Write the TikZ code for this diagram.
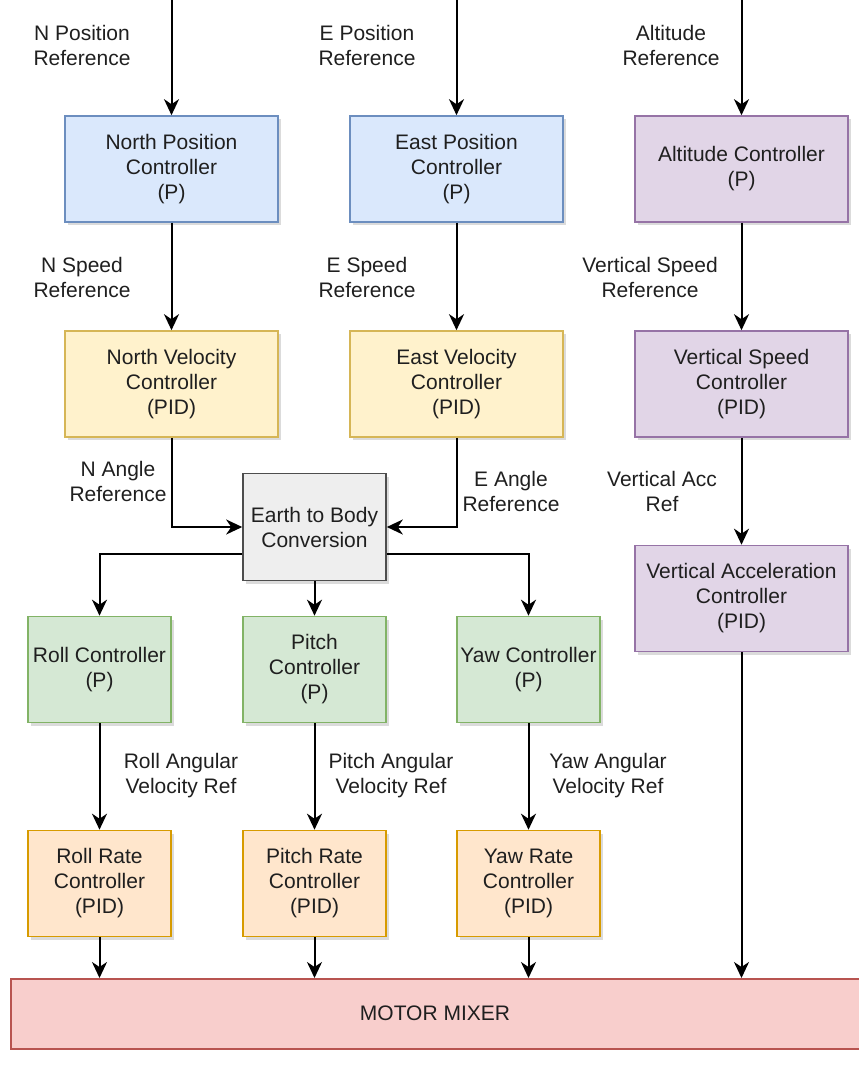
\documentclass[tikz,border=0pt]{standalone}
\usepackage{fontspec}
\setmainfont{Liberation Sans}
\usetikzlibrary{arrows.meta,shadows,calc}

\definecolor{txt}{HTML}{1F1F1F}
\definecolor{blueF}{HTML}{DAE8FC}\definecolor{blueD}{HTML}{6C8EBF}
\definecolor{yelF}{HTML}{FFF2CC}\definecolor{yelD}{HTML}{D6B656}
\definecolor{purF}{HTML}{E1D5E7}\definecolor{purD}{HTML}{9673A6}
\definecolor{grayF}{HTML}{EEEEEE}\definecolor{grayD}{HTML}{4D4D4D}
\definecolor{grnF}{HTML}{D5E8D4}\definecolor{grnD}{HTML}{82B366}
\definecolor{orgF}{HTML}{FFE6CC}\definecolor{orgD}{HTML}{D79B00}
\definecolor{redF}{HTML}{F8CECC}\definecolor{redD}{HTML}{B85450}

\tikzset{
  x=1pt, y=-1pt,
  txtfont/.style={font=\fontsize{21}{25}\selectfont, text=txt},
  box/.style={txtfont, draw, line width=1.6pt, align=center, inner sep=0pt,
    minimum height=106pt,
    drop shadow={shadow xshift=2.5pt, shadow yshift=-3pt, opacity=0.2, fill=black!70}},
  wide/.style={box, minimum width=213pt},
  narrow/.style={box, minimum width=143pt},
  posbox/.style={wide, fill=blueF, draw=blueD},
  velbox/.style={wide, fill=yelF, draw=yelD},
  altbox/.style={wide, fill=purF, draw=purD},
  convbox/.style={narrow, minimum height=107pt, fill=grayF, draw=grayD},
  attbox/.style={narrow, fill=grnF, draw=grnD},
  ratebox/.style={narrow, fill=orgF, draw=orgD},
  lbl/.style={txtfont, align=center, inner sep=0pt},
  arr/.style={-{Stealth[length=16pt,width=15pt,inset=5pt]}, line width=2pt, draw=black},
}

\begin{document}
\begin{tikzpicture}
\useasboundingbox (0,0) rectangle (859,1077);
\clip (0,0) rectangle (859,1077);

% outer position loops
\node[posbox] (npos) at (171.5,169) {North Position\\Controller\\(P)};
\node[posbox] (epos) at (456.5,169) {East Position\\Controller\\(P)};
\node[altbox] (alt)  at (741.5,169) {Altitude Controller\\(P)};

% velocity loops
\node[velbox] (nvel) at (171.5,384) {North Velocity\\Controller\\(PID)};
\node[velbox] (evel) at (456.5,384) {East Velocity\\Controller\\(PID)};
\node[altbox] (vspd) at (741.5,384) {Vertical Speed\\Controller\\(PID)};

% frame conversion and vertical acceleration
\node[convbox] (e2b) at (314.5,527) {Earth to Body\\Conversion};
\node[altbox] (vacc) at (741.5,598.5) {Vertical Acceleration\\Controller\\(PID)};

% attitude loops
\node[attbox] (roll)  at (99.5,669.5)  {Roll Controller\\(P)};
\node[attbox] (pitch) at (314.5,669.5) {Pitch\\Controller\\(P)};
\node[attbox] (yaw)   at (528.5,669.5) {Yaw Controller\\(P)};

% rate loops
\node[ratebox] (rollr)  at (99.5,883.5)  {Roll Rate\\Controller\\(PID)};
\node[ratebox] (pitchr) at (314.5,883.5) {Pitch Rate\\Controller\\(PID)};
\node[ratebox] (yawr)   at (528.5,883.5) {Yaw Rate\\Controller\\(PID)};

% mixer
\node[txtfont, draw=redD, fill=redF, line width=1.6pt, minimum width=880pt,
  minimum height=70pt, inner sep=0pt, anchor=north west] (mix) at (10,978) {};
\node[lbl] (mixlbl) at (435,1013) {MOTOR MIXER};

% reference inputs
\coordinate (inN) at (171.5,0);
\coordinate (inE) at (456.5,0);
\coordinate (inA) at (741.5,0);
\draw[arr] (inN) -- (npos);
\draw[arr] (inE) -- (epos);
\draw[arr] (inA) -- (alt);

\draw[arr] (npos) -- (nvel);
\draw[arr] (epos) -- (evel);
\draw[arr] (alt) -- (vspd);
\draw[arr] (vspd) -- (vacc);

\draw[arr] (nvel.south) |- (e2b.west);
\draw[arr] (evel.south) |- (e2b.east);

\coordinate (e2bL) at ($(e2b.west)+(0,27)$);
\coordinate (e2bR) at ($(e2b.east)+(0,27)$);
\draw[arr] (e2bL) -| (roll.north);
\draw[arr] (e2b) -- (pitch);
\draw[arr] (e2bR) -| (yaw.north);

\draw[arr] (roll) -- (rollr);
\draw[arr] (pitch) -- (pitchr);
\draw[arr] (yaw) -- (yawr);

\draw[arr] (rollr.south) -- (rollr.south |- mix.north);
\draw[arr] (pitchr.south) -- (pitchr.south |- mix.north);
\draw[arr] (yawr.south) -- (yawr.south |- mix.north);
\draw[arr] (vacc.south) -- (vacc.south |- mix.north);

% signal labels
\node[lbl] (l1) at (82,45)   {N Position\\Reference};
\node[lbl] (l2) at (367,45)  {E Position\\Reference};
\node[lbl] (l3) at (671,45)  {Altitude\\Reference};
\node[lbl] (l4) at (82,277)  {N Speed\\Reference};
\node[lbl] (l5) at (367,277) {E Speed\\Reference};
\node[lbl] (l6) at (650,277) {Vertical Speed\\Reference};
\node[lbl] (l7) at (118,481) {N Angle\\Reference};
\node[lbl] (l8) at (511,491) {E Angle\\Reference};
\node[lbl] (l9) at (662,491) {Vertical Acc\\Ref};
\node[lbl] (l10) at (181,776) {Roll Angular\\Velocity Ref};
\node[lbl] (l11) at (391,776) {Pitch Angular\\Velocity Ref};
\node[lbl] (l12) at (608,776) {Yaw Angular\\Velocity Ref};
\end{tikzpicture}
\end{document}
